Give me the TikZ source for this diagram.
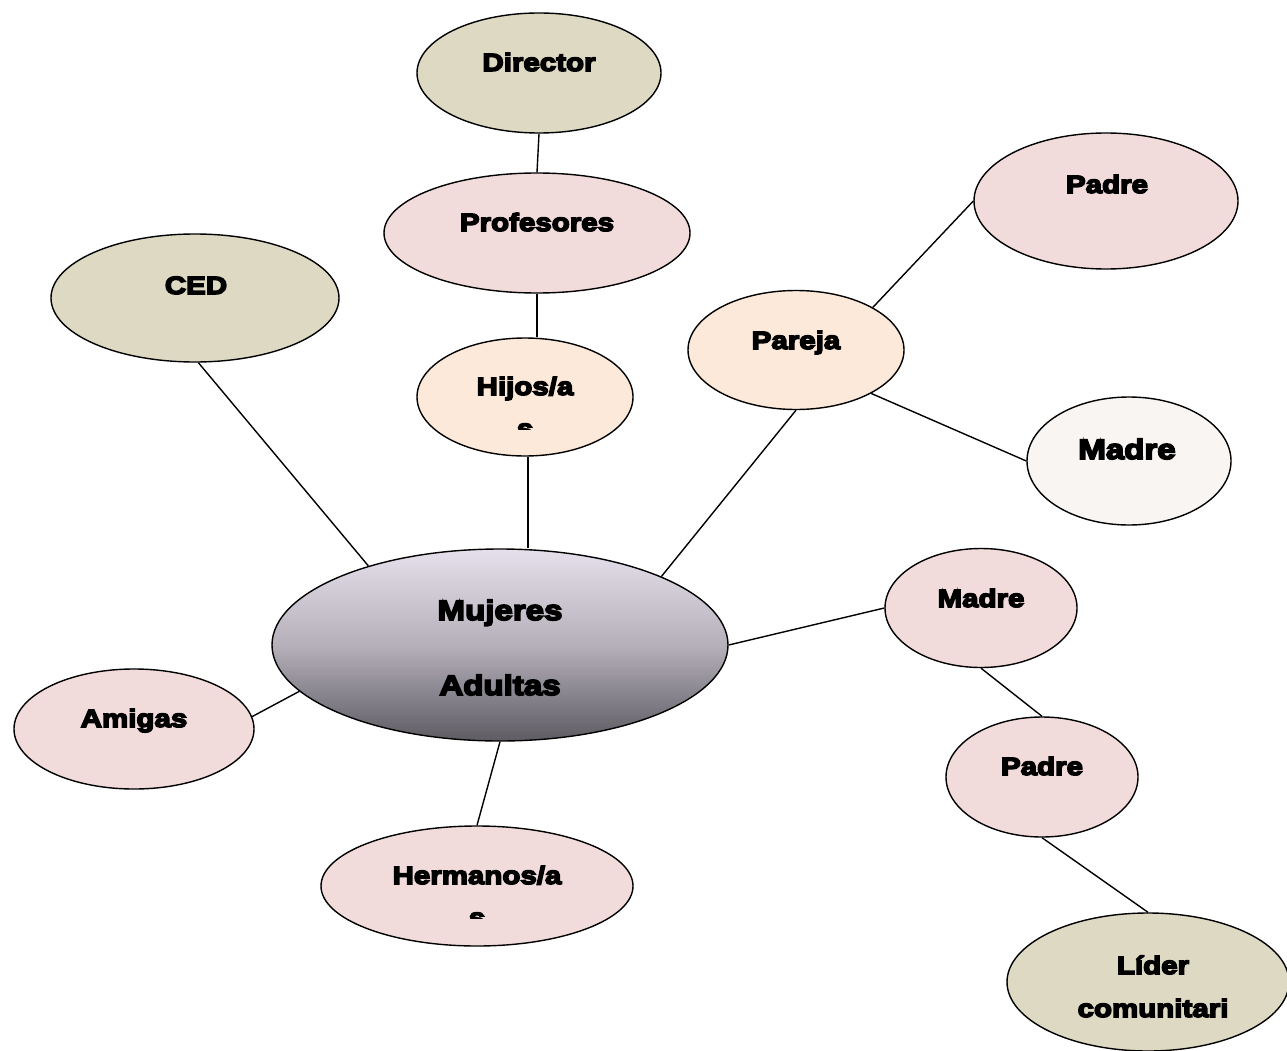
\documentclass[tikz,border=0pt]{standalone}
\usepackage{fontspec}
\setmainfont{Liberation Sans}[BoldFeatures={FakeStretch=1.18,FakeBold=6}]
\usetikzlibrary{shapes.geometric}
\definecolor{tan}{HTML}{DDD9C3}
\definecolor{pinkish}{HTML}{F2DCDB}
\definecolor{peach}{HTML}{FDE9D9}
\definecolor{offwhite}{HTML}{F8F5F3}
\definecolor{gradtop}{HTML}{E6E0EC}
\definecolor{gradmid}{HTML}{B5B0BA}
\definecolor{gradbot}{HTML}{5E5B63}
\tikzset{
  bub/.style={ellipse, draw=black, line width=1.4pt, inner sep=0pt},
  lbl/.style={anchor=base, inner sep=0pt, font=\fontsize{25}{30}\selectfont\bfseries},
  biglbl/.style={anchor=base, inner sep=0pt, font=\fontsize{28}{34}\selectfont\bfseries},
  link/.style={draw=black, line width=1.4pt},
}
\begin{document}
\begin{tikzpicture}[x=1pt,y=-1pt]
\useasboundingbox (0,0) rectangle (1287,1051);
% ellipses
\node[bub, fill=tan, minimum width=244, minimum height=120] (dir) at (539,73) {};
\node[bub, fill=pinkish, minimum width=306, minimum height=120] (prof) at (537,233) {};
\node[bub, fill=tan, minimum width=288, minimum height=128] (ced) at (195,298) {};
\node[bub, fill=peach, minimum width=216, minimum height=118] (hij) at (525,397) {};
\node[bub, fill=peach, minimum width=216, minimum height=119] (par) at (796,350) {};
\node[bub, fill=pinkish, minimum width=264, minimum height=136] (padA) at (1106,201) {};
\node[bub, fill=offwhite, minimum width=204, minimum height=128] (madA) at (1129,461) {};
\node[bub, top color=gradtop, bottom color=gradbot, middle color=gradmid, minimum width=456, minimum height=192] (muj) at (500,645) {};
\node[bub, fill=pinkish, minimum width=192, minimum height=119] (madB) at (981,608) {};
\node[bub, fill=pinkish, minimum width=240, minimum height=120] (ami) at (134,729) {};
\node[bub, fill=pinkish, minimum width=192, minimum height=120] (padB) at (1042,777) {};
\node[bub, fill=pinkish, minimum width=312, minimum height=120] (her) at (477,886) {};
\node[bub, fill=tan, minimum width=282, minimum height=138] (lid) at (1148,982) {};
% connectors
\draw[link] (dir.south) -- (prof.north);
\draw[link] (prof.south) -- (prof.south |- hij.north);
\draw[link] (hij.-87) -- (hij.-87 |- muj.north);
\draw[link] (ced.-87) -- (muj.149);
\draw[link] (par.south) -- (muj.23);
\draw[link] (par.29) -- (padA.west);
\draw[link] (par.-30) -- (madA.west);
\draw[link] (muj.east) -- (madB.west);
\draw[link] (madB.south) -- (padB.north);
\draw[link] (padB.south) -- (lid.north);
\draw[link] (muj.193) -- (ami.6);
\draw[link] (muj.south) -- (her.north);
% labels
\node[lbl] (tdir) at (539,71) {Director};
\node[lbl] (tprof) at (537,231) {Profesores};
\node[lbl] (tced) at (196,294) {CED};
\node[lbl] (thij) at (525,395) {Hijos/a};
\begin{scope}
\clip (480,400) rectangle (570,429);
\node[lbl] (thijs) at (525,437) {s};
\end{scope}
\node[lbl] (tpar) at (796,349) {Pareja};
\node[lbl] (tpadA) at (1107,193) {Padre};
\node[biglbl] (tmadA) at (1127,459) {Madre};
\node[biglbl] (tmuj) at (500,620) {Mujeres};
\node[biglbl] (tadu) at (500,695) {Adultas};
\node[lbl] (tmadB) at (981,607) {Madre};
\node[lbl] (tami) at (134,727) {Amigas};
\node[lbl] (tpadB) at (1042,775) {Padre};
\node[lbl] (ther) at (477,884) {Hermanos/a};
\begin{scope}
\clip (430,890) rectangle (520,918);
\node[lbl] (thers) at (477,926) {s};
\end{scope}
\node[lbl] (tlid) at (1153,974) {Líder};
\node[lbl] (tcom) at (1153,1017) {comunitari};
\end{tikzpicture}
\end{document}
